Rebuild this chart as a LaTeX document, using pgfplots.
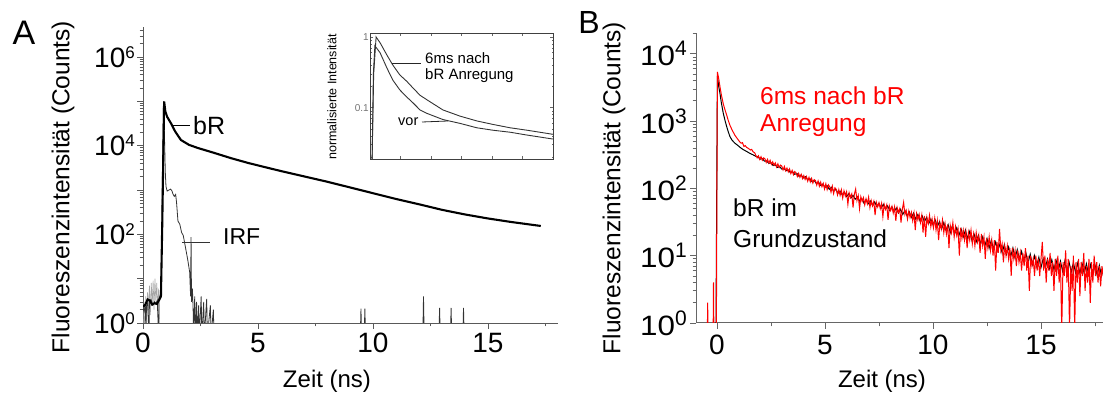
\documentclass[border=0pt]{standalone}
\usepackage{fontspec}
\setmainfont{Liberation Sans}
\usepackage{graphicx}
\usepackage{pgfplots}
\pgfplotsset{compat=1.18}
\newcommand{\fs}[1]{\fontsize{#1}{#1}\selectfont}
\newcommand{\tpA}[1]{10\raisebox{9pt}{\fs{17}#1}}
\newcommand{\tpB}[1]{\scalebox{1.12}[1]{10}\raisebox{10pt}{\fs{21}#1}}
\begin{document}
\begin{tikzpicture}[x=1pt,y=1pt]
\useasboundingbox (0,0) rectangle (1103,396);
% ---------------- Panel A ----------------
\begin{axis}[
  at={(143pt,73pt)}, anchor=south west, scale only axis,
  width=415pt, height=296pt,
  xmin=0, xmax=18.05, ymode=log, ymin=1, ymax=4.8e6,
  axis x line=bottom, axis y line=left,
  axis line style={-, black!65, line width=0.9pt},
  tick align=outside, major tick length=6pt, minor tick length=3.5pt,
  tick style={black!65, line width=0.7pt},
  xtick={0,5,10,15}, xticklabels={0,5,10,15},
  minor xtick={2.5,7.5,12.5,17.5},
  ytick={1,10,100,1000,10000,100000,1000000},
  yticklabels={\tpA{0},,\tpA{2},,\tpA{4},,\tpA{6}},
  minor ytick={2,3,4,5,6,7,8,9,20,30,40,50,60,70,80,90,200,300,400,500,600,700,800,900,2000,3000,4000,5000,6000,7000,8000,9000,2e4,3e4,4e4,5e4,6e4,7e4,8e4,9e4,2e5,3e5,4e5,5e5,6e5,7e5,8e5,9e5,2e6,3e6,4e6},
  xticklabel style={font=\fs{28}, inner sep=0pt, anchor=north, yshift=-4pt},
  yticklabel style={font=\fs{28}, inner sep=0pt, anchor=east, xshift=-2pt},
  clip=true,
]
% grey noise near baseline
\addplot[black!35, line width=0.6pt] coordinates {
(0.02,0.5)(0.05,3)(0.08,0.5)(0.12,4)(0.15,1.2)(0.2,5)(0.24,2)(0.28,7)(0.32,1.5)(0.36,8)(0.4,2.5)(0.44,9)(0.48,2)(0.52,10)(0.56,3)(0.6,8)(0.64,2)(0.68,6)(0.72,0.5)};
% IRF
\addplot[black!80, line width=0.8pt] coordinates {
(0.0,2.2)(0.05,1.8)(0.1,2.6)(0.13,0.5)(0.15,2.4)(0.2,2.8)(0.26,0.5)(0.28,3)(0.35,3.4)(0.4,2.8)(0.45,2.6)(0.5,3.0)(0.55,2.7)(0.62,3.2)(0.68,0.5)(0.70,3.6)(0.76,4.5)(0.80,12)(0.84,1500)(0.89,1e5)(0.93,2e4)(0.97,2500)(1.0,1200)(1.05,950)(1.12,1000)(1.2,1050)(1.26,960)(1.3,820)(1.36,720)(1.42,800)(1.46,520)(1.52,200)(1.6,170)(1.68,110)(1.75,95)(1.85,50)(1.95,26)(2.03,14)(2.07,4)(2.09,87)(2.11,3)(2.15,6)(2.18,2)(2.2,0.5)(2.25,4)(2.28,0.5)(2.33,3)(2.36,0.5)(2.42,2.5)(2.45,0.5)(2.53,4)(2.56,0.5)(2.64,3)(2.67,0.5)(2.77,3.5)(2.8,0.5)(2.93,2.5)(2.96,0.5)(3.06,2)(3.09,0.5)
(9.45,0.5)(9.48,2.1)(9.51,0.5)(9.62,0.5)(9.65,2.1)(9.68,0.5)
(12.17,0.5)(12.2,4)(12.23,0.5)(12.87,0.5)(12.9,2.2)(12.93,0.5)(13.37,0.5)(13.4,2.2)(13.43,0.5)(13.91,0.5)(13.94,2.2)(13.97,0.5)(18,0.5)};
% bR
\addplot[black, line width=2.1pt] coordinates {
(0,2.3)(0.1,2.6)(0.2,3.4)(0.3,3.2)(0.4,2.6)(0.5,2.8)(0.6,2.7)(0.7,3.3)(0.78,4)(0.84,200)(0.88,5000)(0.92,1e5)(0.97,6e4)(1.05,4.5e4)(1.22,3.2e4)(1.4,2.1e4)(1.65,1.35e4)(2.0,1.05e4)(2.39,8900)(3.1,6900)(3.83,5250)(4.57,4100)(5.3,3300)(6,2690)(7,2040)(8,1550)(9,1150)(10,851)(11,631)(12,479)(13,359)(14,282)(15,229)(16,191)(17.3,155)};
\end{axis}
% ---------------- Inset ----------------
\begin{axis}[
  at={(370pt,237pt)}, anchor=south west, scale only axis,
  width=183pt, height=126pt,
  xmin=0, xmax=6, ymode=log, ymin=0.0188, ymax=1.14,
  axis line style={black!75, line width=0.8pt},
  tick align=inside, major tick length=3pt, minor tick length=1.5pt,
  tick style={black!60, line width=0.5pt},
  xtick={1,2,3,4,5}, xticklabels={},
  ytick={0.1,1}, yticklabels={0.1,1},
  minor ytick={0.02,0.03,0.04,0.05,0.06,0.07,0.08,0.09,0.2,0.3,0.4,0.5,0.6,0.7,0.8,0.9},
  yticklabel style={font=\fs{10}, inner sep=1pt, text=black!55},
]
\addplot[black!80, line width=0.9pt] coordinates {
(0.07,0.0188)(0.12,0.3)(0.2,1.0)(0.33,0.83)(0.56,0.55)(0.75,0.40)(0.98,0.29)(1.1,0.26)(1.21,0.235)(1.41,0.19)(1.64,0.15)(1.87,0.129)(2.39,0.093)(2.95,0.076)(3.5,0.065)(4.03,0.058)(4.59,0.052)(5.15,0.048)(6.0,0.042)};
\addplot[black!80, line width=0.9pt] coordinates {
(0.07,0.0188)(0.11,0.3)(0.16,0.75)(0.33,0.60)(0.56,0.36)(0.75,0.245)(0.98,0.178)(1.21,0.141)(1.41,0.117)(1.64,0.093)(1.87,0.083)(2.39,0.068)(2.95,0.060)(3.5,0.052)(4.03,0.048)(4.59,0.045)(5.15,0.041)(6.0,0.036)};
\end{axis}
% ---------------- Panel B ----------------
\begin{axis}[
  at={(696pt,73pt)}, anchor=south west, scale only axis,
  width=407pt, height=290pt,
  xmin=-0.97, xmax=17.87, ymode=log, ymin=1, ymax=20400,
  axis x line=bottom, axis y line=left,
  axis line style={-, black!60, line width=1pt},
  tick align=outside, major tick length=6pt, minor tick length=3.5pt,
  tick style={black!60, line width=0.8pt},
  xtick={0,5,10,15}, xticklabels={0,5,10,15},
  minor xtick={2.5,7.5,12.5,17.5},
  ytick={1,10,100,1000,10000},
  yticklabels={\tpB{0},\tpB{1},\tpB{2},\tpB{3},\tpB{4}},
  minor ytick={2,3,4,5,6,7,8,9,20,30,40,50,60,70,80,90,200,300,400,500,600,700,800,900,2000,3000,4000,5000,6000,7000,8000,9000,20000},
  xticklabel style={font=\fs{28}, inner sep=0pt, anchor=north, yshift=-6pt},
  yticklabel style={font=\fs{28}, inner sep=0pt, anchor=east, xshift=-3pt},
]
% black: bR im Grundzustand
\addplot[black, line width=1pt] coordinates {
(-0.05,0.5)(0.02,4700)(0.08,3300)(0.14,2570)(0.2,1900)(0.29,1320)(0.37,1030)(0.45,830)(0.52,700)(0.6,590)(0.7,520)(0.83,470)(0.95,440)(1.06,410)(1.2,380)(1.37,355)(1.5,335)(1.65,318)(1.8,300)
(1.9,296)(2.0,272)(2.1,278)(2.2,254)(2.3,257)(2.4,236)(2.5,240)(2.6,219)(2.7,224)(2.8,205)(2.9,211)(3.0,194)(3.1,199)(3.2,183)(3.3,188)(3.4,172)(3.5,178)(3.6,162)(3.7,167)(3.8,151)(3.9,158)(4.0,143)(4.1,149)(4.2,134)(4.3,140)(4.4,126)(4.5,132)(4.6,118)(4.7,124)(4.8,111)(4.9,116)
(5.0,104)(5.1,110)(5.2,97)(5.3,104)(5.4,91)(5.5,97)(5.6,85)(5.7,91)(5.8,80)(5.9,88)(6.0,76)(6.1,83)(6.2,72)(6.3,79)(6.4,69)(6.5,75)(6.6,65)(6.7,71)(6.8,61)(6.9,68)(7.0,59)(7.1,65)(7.2,56)(7.3,63)(7.4,54)(7.5,60)(7.6,51)(7.7,58)(7.8,49)(7.9,55)
(8.0,47)(8.1,53)(8.2,45)(8.3,51)(8.4,43)(8.5,49)(8.6,41)(8.7,47)(8.8,39)(8.9,45)(9.0,37)(9.1,43)(9.2,35)(9.3,41)(9.4,33)(9.5,39)(9.6,32)(9.7,37)(9.8,30)(9.9,35)
(10.0,29)(10.1,34)(10.2,27)(10.3,32)(10.4,25)(10.5,31)(10.6,24)(10.7,29)(10.8,22)(10.9,28)(11.0,21)(11.1,26)(11.2,20)(11.3,25)(11.4,19)(11.5,24)(11.6,18)(11.7,23)(11.8,17)(11.9,21)
(12.0,16)(12.1,20)(12.2,15)(12.3,19)(12.4,14)(12.5,18)(12.6,13)(12.7,17)(12.8,12.5)(12.9,16)(13.0,11.8)(13.1,15)(13.2,11)(13.3,14.5)(13.4,10.5)(13.5,13.5)(13.6,9.8)(13.7,13)(13.8,9.2)(13.9,12.3)
(14.0,8.8)(14.1,11.6)(14.2,8.3)(14.3,11)(14.4,7.8)(14.5,10.5)(14.6,7.4)(14.7,10)(14.8,7)(14.9,9.5)(15.0,6.7)(15.1,9)(15.2,6.6)(15.3,8.9)(15.4,6.4)(15.5,8.7)(15.6,6.2)(15.7,8.5)(15.8,6.0)(15.9,8.3)
(16.0,5.9)(16.1,8.2)(16.2,5.8)(16.3,8)(16.4,5.7)(16.5,7.9)(16.6,5.6)(16.7,7.8)(16.8,5.5)(16.9,7.7)(17.0,5.4)(17.1,7.6)(17.2,5.3)(17.3,7.4)(17.4,5.2)(17.5,7.3)(17.6,5.1)(17.7,7.2)(17.8,5.0)(17.9,7.0)};
% red: 6ms nach bR Anregung
\addplot[red, line width=1pt] coordinates {
(-0.45,0.5)(-0.43,2)(-0.41,0.5)(-0.18,0.5)(-0.16,4)(-0.14,0.5)(-0.03,0.5)(0.02,5400)(0.08,4300)(0.14,3240)(0.2,2500)(0.29,1820)(0.37,1480)(0.45,1230)(0.52,1030)(0.6,870)(0.7,740)(0.83,617)(0.95,545)(1.06,490)(1.12,470)(1.18,478)(1.25,420)(1.31,432)(1.37,407)(1.43,398)(1.49,385)(1.55,372)(1.61,380)(1.67,350)(1.74,340)
(1.80,310)(1.86,285)(1.92,305)(1.98,270)(2.04,296)(2.10,262)(2.16,284)(2.22,275)(2.28,243)(2.34,270)(2.40,238)(2.46,262)(2.52,228)(2.58,248)
(2.64,221)(2.70,240)(2.76,208)(2.82,232)(2.88,205)(2.94,222)(3.00,215)(3.06,188)(3.12,212)(3.18,183)(3.24,201)(3.30,176)(3.36,195)
(3.42,166)(3.48,185)(3.54,160)(3.60,178)(3.66,171)(3.72,150)(3.78,167)(3.84,146)(3.90,162)(3.96,140)(4.02,155)(4.08,136)(4.14,150)
(4.20,128)(4.26,146)(4.32,125)(4.38,141)(4.44,120)(4.50,135)(4.56,131)(4.62,112)(4.68,129)(4.74,108)(4.80,124)(4.86,106)
(4.92,119)(4.98,98)(5.04,117)(5.10,96)(5.16,113)(5.22,106)(5.28,88)(5.34,108)(5.40,84)(5.46,102)(5.52,97)(5.58,80)(5.64,96)(5.70,79)
(5.76,95)(5.82,72)(5.88,92)(5.94,77)(6.00,89)(6.06,58)(6.12,86)(6.18,74)(6.24,83)(6.30,52)(6.36,82)(6.42,98)(6.48,66)(6.54,78)(6.60,50)(6.66,75)(6.72,64)(6.78,73)(6.84,57)(6.90,70)(6.96,59)
(7.02,74)(7.08,52)(7.14,66)(7.20,55)(7.26,64)(7.32,40)(7.38,62)(7.44,53)(7.50,61)(7.56,50)(7.62,60)(7.68,38)(7.74,58)(7.80,49)(7.86,57)(7.92,34)(7.98,55)(8.04,47)(8.10,54)(8.16,43)(8.22,53)(8.28,33)(8.34,52)(8.40,44)(8.46,50)(8.52,31)(8.58,49)(8.64,62)(8.70,41)(8.76,47)
(8.82,35)(8.88,46)(8.94,37)(9.00,44)(9.06,33)(9.12,43)(9.18,24)(9.24,42)(9.30,34)(9.36,41)(9.42,31)(9.48,40)(9.54,22)(9.60,39)(9.66,19)(9.72,37)(9.78,30)(9.84,40)(9.90,27)(9.96,35)
(10.02,26)(10.08,36)(10.14,24)(10.20,33)(10.26,17)(10.32,31)(10.38,25)(10.44,34)(10.50,22)(10.56,30)(10.62,21)(10.68,29)(10.74,13)(10.80,28)(10.86,22)(10.92,31)(10.98,19)(11.04,27)(11.10,20)(11.16,25)(11.22,10)(11.28,26)(11.34,18)(11.40,24)(11.46,17)(11.52,23)(11.58,13)(11.64,22)(11.70,17)(11.76,24)(11.82,15)(11.88,21)
(11.94,14)(12.00,22)(12.06,16)(12.12,20)(12.18,11)(12.24,21)(12.30,14)(12.36,19)(12.42,9)(12.48,18)(12.54,13)(12.60,19)(12.66,12)(12.72,17)(12.78,10)(12.84,17)(12.90,6)(12.96,16)(13.02,11)(13.08,25)(13.14,12)(13.20,15)(13.26,8)(13.32,14)(13.38,10)(13.44,14)
(13.50,9)(13.56,13)(13.62,5)(13.68,13)(13.74,9)(13.80,12)(13.86,7)(13.92,12)(13.98,8)(14.04,11)(14.10,6)(14.16,11)(14.22,7)(14.28,13)(14.34,6)(14.40,10)(14.46,3)(14.52,10)(14.58,7)(14.64,9)(14.70,5)(14.76,10)(14.82,6)(14.88,9)(14.94,5)
(15.00,9)(15.06,16)(15.12,6)(15.18,10)(15.24,4)(15.30,9)(15.36,6)(15.42,11)(15.48,5)(15.54,8)(15.60,3)(15.66,9)(15.72,5)(15.78,10)(15.84,4)(15.90,8)(15.96,0.8)(16.02,8)(16.08,5)(16.14,12)(16.20,4)(16.26,9)(16.32,0.8)(16.38,7)(16.44,3)(16.50,10)
(16.56,0.8)(16.62,8)(16.68,4)(16.74,9)(16.80,2.5)(16.86,8)(16.92,5)(16.98,11)(17.04,3)(17.10,7)(17.16,4)(17.22,9)(17.28,2)(17.34,8)(17.40,4)(17.46,10)(17.52,5)(17.58,8)(17.64,4)(17.70,7)(17.76,3.5)(17.82,7)(17.88,5)};
\end{axis}
% ---------------- Texts ----------------
\node[font=\fs{34}, inner sep=0pt] at (24,363) {A};
\node[font=\fs{32}, inner sep=0pt] at (589,374) {B};
\node[font=\fs{24.5}, rotate=90, inner sep=0pt] at (63,209) {Fluoreszenzintensität (Counts)};
\node[font=\fs{24}, inner sep=0pt] at (327,15) {Zeit (ns)};
\node[font=\fs{24.5}, rotate=90, inner sep=0pt] at (614,208) {Fluoreszenzintensität (Counts)};
\node[font=\fs{24}, inner sep=0pt] at (882,15) {Zeit (ns)};
% panel A annotations
\node[font=\fs{25}, inner sep=0pt, anchor=base west] at (193,261) {bR};
\draw[black, line width=0.9pt] (173,271) -- (190,271);
\node[font=\fs{23}, inner sep=0pt, anchor=base west] at (223,151) {IRF};
\draw[black!80, line width=0.9pt] (182,154) -- (210,154);
% inset annotations
\node[font=\fs{12.5}, rotate=90, inner sep=0pt] at (332,299) {normalisierte Intensität};
\node[font=\fs{15}, inner sep=0pt, anchor=base west] at (425,332) {6ms nach};
\node[font=\fs{15}, inner sep=0pt, anchor=base west] at (425,316) {bR Anregung};
\draw[black!85, line width=0.8pt] (392,333) -- (421,333);
\node[font=\fs{14.5}, inner sep=0pt, anchor=base west] at (398,270) {vor};
\draw[black!85, line width=0.8pt] (422,274) -- (448,275);
% panel B annotations
\node[font=\fs{24.5}, inner sep=0pt, anchor=base west, text=red] at (760,291) {6ms nach bR};
\node[font=\fs{24.5}, inner sep=0pt, anchor=base west, text=red] at (760,264) {Anregung};
\node[font=\fs{24.5}, inner sep=0pt, anchor=base west] at (733,179) {bR im};
\node[font=\fs{24.5}, inner sep=0pt, anchor=base west] at (733,148) {Grundzustand};
\end{tikzpicture}
\end{document}
